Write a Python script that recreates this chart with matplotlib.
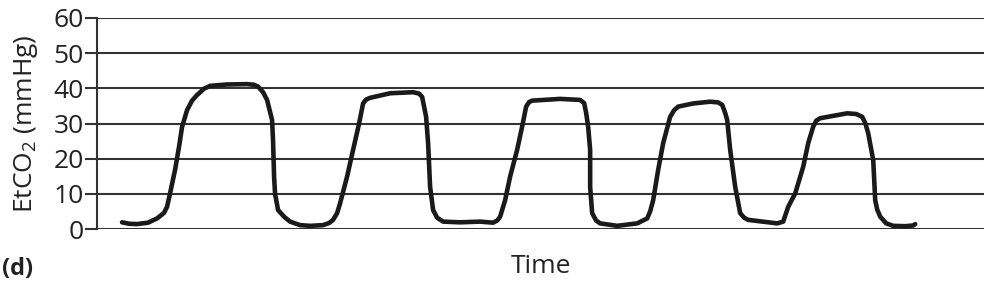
import matplotlib
matplotlib.use("Agg")
import matplotlib.pyplot as plt

# capnogram trace (time in arbitrary units, EtCO2 in mmHg)
time = [25, 32, 40, 51, 60, 67, 70, 73, 78, 82, 85, 90, 95, 100, 107, 113, 130, 150,
        157, 161, 166, 170, 175, 176, 177, 178, 181, 187, 193, 203, 213, 226, 232,
        236, 240, 243, 250, 256, 262, 266, 269, 273, 293, 316, 322, 325, 329, 331,
        333, 336, 340, 346, 363, 383, 396, 400, 403, 408, 413, 420, 425, 429, 432,
        435, 463, 483, 487, 489, 491, 493, 493, 495, 499, 503, 520, 540, 550, 553,
        556, 561, 566, 573, 577, 581, 596, 613, 621, 625, 628, 630, 633, 638, 643,
        647, 651, 680, 686, 691, 698, 706, 711, 716, 719, 723, 750, 759, 765, 768,
        771, 776, 778, 780, 783, 789, 796, 808, 816, 818]
etco2 = [1.9, 1.5, 1.4, 1.8, 3.0, 4.6, 6.3, 10.1, 16.8, 23.4, 29.0, 33.8, 36.5, 38.1,
         39.9, 40.7, 41.1, 41.2, 41.0, 40.5, 38.9, 36.7, 31.0, 25.0, 15.0, 10.0, 5.4,
         3.5, 2.1, 1.1, 0.9, 1.1, 1.7, 2.6, 4.5, 7.3, 14.9, 22.5, 30.0, 35.7, 36.8,
         37.3, 38.6, 38.9, 38.5, 37.6, 31.9, 24.4, 12.0, 5.4, 3.2, 2.1, 1.9, 2.1, 1.8,
         2.4, 3.5, 8.2, 14.9, 22.5, 29.1, 34.8, 36.1, 36.5, 37.0, 36.7, 35.8, 33.0,
         29.1, 22.5, 12.0, 4.5, 2.4, 1.6, 0.9, 1.6, 3.0, 5.0, 8.2, 16.8, 24.4, 31.9,
         33.8, 34.8, 35.7, 36.2, 36.0, 35.3, 33.0, 31.0, 22.5, 12.0, 4.5, 3.2, 2.6,
         1.6, 2.1, 6.3, 10.1, 17.7, 24.4, 29.1, 30.8, 31.5, 32.9, 32.7, 31.9, 30.2,
         27.2, 19.6, 8.2, 5.5, 3.5, 1.6, 0.9, 0.8, 1.0, 1.4]
y_ticks = [0, 10, 20, 30, 40, 50, 60]

plt.rcParams['font.family'] = ['Open Sans', 'DejaVu Sans']
plt.rcParams['mathtext.fontset'] = 'custom'
plt.rcParams['mathtext.rm'] = 'Open Sans'

fig = plt.figure(figsize=(9.88, 2.83), dpi=100)
ax = fig.add_axes([0.0982, 0.1908, 0.898, 0.7456])

for v in y_ticks:
    ax.axhline(v, color='#333333', linewidth=1.5, zorder=1)

ax.plot(time, etco2, color='#1a1a1a', linewidth=3.3, solid_joinstyle='round',
        solid_capstyle='round', zorder=3)

ax.set_xlim(0, 887)
ax.set_ylim(0, 60)
ax.set_yticks(y_ticks)
ax.set_xticks([])
for s in ['top', 'right', 'bottom']:
    ax.spines[s].set_visible(False)
ax.spines['left'].set_linewidth(1.5)
ax.spines['left'].set_color('#333333')
ax.tick_params(axis='y', length=8.5, width=1.5, color='#333333',
               labelsize=19, pad=1, labelcolor='#222222')

ax.set_ylabel('EtCO$_\\mathrm{2}$ (mmHg)', fontsize=19, color='#222222', labelpad=10)
ax.set_xlabel('Time', fontsize=19, color='#222222', labelpad=18)
fig.text(0.002, 0.03, '(d)', fontsize=17, fontweight='bold', color='#222222')

fig.savefig('out.png', dpi=100)
